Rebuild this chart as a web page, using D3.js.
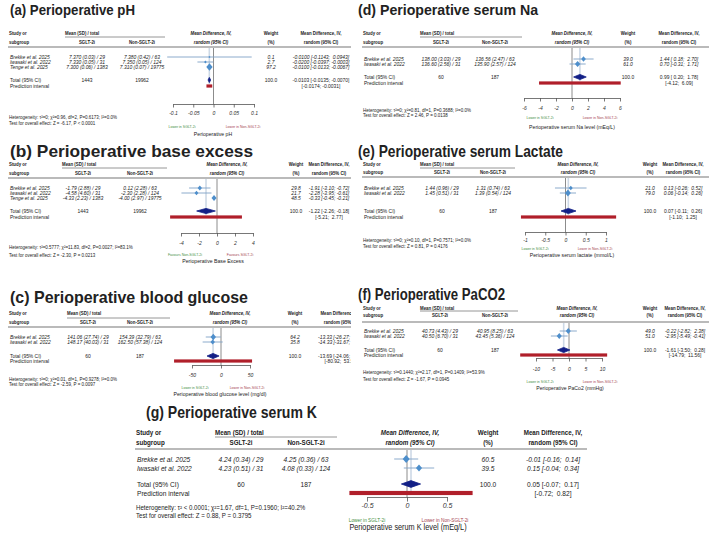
<!DOCTYPE html>
<html>
<head>
<meta charset="utf-8">
<script src="https://cdn.jsdelivr.net/npm/d3@7"></script>
<style>
  body { margin: 0; background: #fff; }
  svg text { font-family: "Liberation Sans", Arial, sans-serif; fill: #222; white-space: pre; }
</style>
</head>
<body>
<svg id="fig" width="709" height="534"></svg>
<script>
// ---- data ----
const panelTitles = [
    "(a) Perioperative pH",
    "(b) Perioperative base excess",
    "(c) Perioperative blood glucose",
    "(d) Perioperative serum Na",
    "(e) Perioperative serum Lactate",
    "(f) Perioperative PaCO2",
    "(g) Perioperative serum K"
];
const studyNames = [
    ["Brekke et al. 2025", "Iwasaki et al. 2022", "Tenge et al. 2025"],
    ["Brekke et al. 2025", "Iwasaki et al. 2022", "Tenge et al. 2025"],
    ["Brekke et al. 2025", "Iwasaki et al. 2022"],
    ["Brekke et al. 2025", "Iwasaki et al. 2022"],
    ["Brekke et al. 2025", "Iwasaki et al. 2022"],
    ["Brekke et al. 2025", "Iwasaki et al. 2022"],
    ["Brekke et al. 2025", "Iwasaki et al. 2022"]
];
const sgltCells = [
    ["7.370 (0.03) / 29", "7.330 (0.05) / 31", "7.300 (0.06) / 1383"],
    ["-1.79 (2.88) / 29", "-4.58 (4.60) / 31", "-4.33 (2.23) / 1383"],
    ["141.06 (27.74) / 29", "148.17 (40.03) / 31"],
    ["138.00 (3.03) / 29", "136.60 (2.56) / 31"],
    ["1.44 (0.96) / 29", "1.45 (0.51) / 31"],
    ["40.73 (4.43) / 29", "40.50 (6.70) / 31"],
    ["4.24 (0.34) / 29", "4.23 (0.51) / 31"]
];
const nonSgltCells = [
    ["7.380 (0.42) / 63", "7.350 (0.05) / 124", "7.310 (0.07) / 19775"],
    ["0.12 (2.28) / 63", "-2.30 (2.28) / 124", "-4.00 (2.97) / 19775"],
    ["154.39 (32.79) / 63", "162.50 (57.38) / 124"],
    ["136.56 (2.47) / 63", "135.90 (2.57) / 124"],
    ["1.31 (0.74) / 63", "1.39 (0.54) / 124"],
    ["40.95 (8.25) / 63", "43.45 (5.36) / 124"],
    ["4.25 (0.36) / 63", "4.08 (0.33) / 124"]
];
const studyMD = [
    [-0.0100, -0.0200, -0.0100],
    [-1.91, -2.28, -0.33],
    [-13.33, -14.33],
    [1.44, 0.70],
    [0.13, 0.06],
    [-0.22, -2.95],
    [-0.01, 0.15]
];
const studyLow = [
    [-0.1143, -0.0397, -0.0133],
    [-3.10, -3.95, -0.45],
    [-26.27, -31.67],
    [0.18, -0.31],
    [-0.26, -0.14],
    [-2.82, -5.49],
    [-0.16, -0.04]
];
const studyHigh = [
    [0.0943, -0.0003, -0.0067],
    [-0.72, -0.61, -0.21],
    [-0.39, 3.01],
    [2.70, 1.71],
    [0.52, 0.26],
    [2.38, -0.41],
    [0.14, 0.34]
];
const studyWeight = [
    [0.1, 2.7, 97.2],
    [29.8, 21.7, 48.5],
    [64.2, 35.8],
    [39.0, 61.0],
    [21.0, 79.0],
    [49.0, 51.0],
    [60.5, 39.5]
];
const totalSGLT = [1443, 1443, 60, 60, 60, 60, 60];
const totalNonSGLT = [19962, 19962, 187, 187, 187, 187, 187];
const pooledMD = [-0.0103, -1.22, -13.69, 0.99, 0.07, -1.61, 0.05];
const pooledLow = [-0.0135, -2.26, -24.06, 0.20, -0.11, -3.50, -0.07];
const pooledHigh = [-0.0070, -0.18, -3.32, 1.78, 0.26, 0.28, 0.17];
const predLow = [-0.0174, -5.21, -80.92, -4.12, -1.10, -14.79, -0.72];
const predHigh = [-0.0031, 2.77, 53.55, 6.09, 1.25, 11.56, 0.82];
const mdDigits = [4, 2, 2, 2, 2, 2, 2];
const axisTicks = [
    [-0.1, -0.05, 0, 0.05, 0.1],
    [-4, -2, 0, 2, 4],
    [-50, 0, 50],
    [-6, -4, -2, 0, 2, 4, 6],
    [-1, -0.5, 0, 0.5, 1],
    [-10, -5, 0, 5, 10],
    [-0.5, 0, 0.5]
];
const leftFavours = ["Lower in SGLT-2i", "Favours Non-SGLT-2i", "Lower in SGLT-2i", "Lower in SGLT-2i",
    "Lower in SGLT-2i", "Lower in SGLT-2i", "Lower in SGLT-2i"];
const rightFavours = ["Lower in Non-SGLT-2i", "Favours SGLT-2i", "Lower in Non-SGLT-2i", "Lower in Non-SGLT-2i",
    "Lower in Non-SGLT-2i", "Lower in Non-SGLT-2i", "Lower in Non-SGLT-2i"];
const axisTitles = [
    "Perioperative pH",
    "Perioperative Base Excess",
    "Perioperative blood glucose level (mg/dl)",
    "Perioperative serum Na level (mEq/L)",
    "Perioperative serum lactate (mmol/L)",
    "Perioperative PaCo2 (mmHg)",
    "Perioperative serum K level (mEq/L)"
];
const heterogeneity = [
    "Heterogeneity: τ²=0; χ²=0.96, df=2, P=0.6173; I²=0.0%",
    "Heterogeneity: τ²=0.5777; χ²=11.83, df=2, P=0.0027; I²=83.1%",
    "Heterogeneity: τ²=0; χ²=0.01, df=1, P=0.9278; I²=0.0%",
    "Heterogeneity: τ²=0; χ²=0.81, df=1, P=0.3688; I²=0.0%",
    "Heterogeneity: τ²=0; χ²=0.10, df=1, P=0.7571; I²=0.0%",
    "Heterogeneity: τ²=0.1440; χ²=2.17, df=1, P=0.1409; I²=53.9%",
    "Heterogeneity: τ² < 0.0001; χ²=1.67, df=1, P=0.1960; I²=40.2%"
];
const overallTest = [
    "Test for overall effect: Z = -6.17, P < 0.0001",
    "Test for overall effect: Z = -2.30, P = 0.0213",
    "Test for overall effect: Z = -2.59, P = 0.0097",
    "Test for overall effect: Z = 2.46, P = 0.0138",
    "Test for overall effect: Z = 0.81, P = 0.4176",
    "Test for overall effect: Z = -1.67, P = 0.0945",
    "Test for overall effect: Z = 0.88, P = 0.3795"
];

// ---- where each panel sits on the page ----
const small = { fs: 5.6, sx: 0.88, hsx: 0.78, ffs: 5.0, fsx: 0.9, afs: 5.6, asx: 0.92, mk: 1 };
const large = { fs: 7.8, sx: 0.85, hsx: 0.8, ffs: 6.6, fsx: 0.93, afs: 8.6, asx: 0.85, mk: 1.3 };
const layout = [
    { tx: 10, ty: 15, tw: 125, tfs: 14, left: 9, right: 351, hy1: 33, hy2: 42, lineY: 47, gx0: 65, gx1: 165, gy: 37,
      cS: 87, cN: 142, cMD: 211, cW: 271, cR: 321, rows: [57, 62, 67], totY: 80, predY: 86,
      px0: 173, px1: 254, axY: 104, tlY: 113, hetY: 117, testY: 123, favY: 127, favL: 182, favR: 243, atX: 213, atY: 134, st: small, clip: true },
    { tx: 10, ty: 157, tw: 243, tfs: 17, left: 9, right: 351, hy1: 164, hy2: 173, lineY: 178, gx0: 62, gx1: 167, gy: 168,
      cS: 83, cN: 140, cMD: 227, cW: 296, cR: 329, rows: [188, 193, 198], totY: 211, predY: 217,
      px0: 181, px1: 253, axY: 233, tlY: 243, hetY: 247, testY: 255, favY: 255, favL: 185, favR: 240, atX: 213, atY: 261, st: small, clip: true },
    { tx: 10, ty: 303, tw: 238, tfs: 17, left: 9, right: 351, hy1: 313, hy2: 322, lineY: 327, gx0: 67, gx1: 170, gy: 318,
      cS: 88, cN: 140, cMD: 230, cW: 295, cR: 341, rows: [337, 342], totY: 356, predY: 361,
      px0: 192, px1: 250, axY: 365, tlY: 375, hetY: 379, testY: 384, favY: 388, favL: 195, favR: 247, atX: 220, atY: 394, st: small, clip: true },
    { tx: 358, ty: 15, tw: 180, tfs: 15, left: 363, right: 709, hy1: 33, hy2: 42, lineY: 47, gx0: 420, gx1: 522, gy: 37,
      cS: 441, cN: 495, cMD: 572, cW: 628, cR: 679, rows: [59, 64], totY: 77, predY: 83,
      px0: 524, px1: 620, axY: 98, tlY: 108, hetY: 110, testY: 115, favY: 118, favL: 540, favR: 600, atX: 572, atY: 127, st: small },
    { tx: 358, ty: 157, tw: 205, tfs: 17, left: 363, right: 709, hy1: 164, hy2: 172, lineY: 177, gx0: 420, gx1: 515, gy: 168,
      cS: 442, cN: 493, cMD: 578, cW: 650, cR: 683, rows: [188, 193], totY: 211, predY: 217,
      px0: 525, px1: 606, axY: 232, tlY: 240, hetY: 240, testY: 246, favY: 249, favL: 535, favR: 595, atX: 572, atY: 255, st: small },
    { tx: 358, ty: 300, tw: 147, tfs: 17, left: 363, right: 709, hy1: 308, hy2: 315, lineY: 322, gx0: 420, gx1: 518, gy: 311,
      cS: 440, cN: 495, cMD: 577, cW: 650, cR: 685, rows: [331, 336], totY: 350, predY: 355,
      px0: 536, px1: 602, axY: 358, tlY: 369, hetY: 372, testY: 379, favY: 382, favL: 540, favR: 600, atX: 570, atY: 388, st: small },
    { tx: 146, ty: 418, tw: 171, tfs: 17, left: 136, right: 587, hy1: 432, hy2: 442, lineY: 449, gx0: 215, gx1: 337, gy: 437,
      cS: 241, cN: 306, cMD: 410, cW: 488, cR: 553, rows: [459, 468], totY: 484, predY: 493,
      px0: 367, px1: 447, axY: 497, tlY: 506, hetY: 508, testY: 516, favY: 520, favL: 367, favR: 445, atX: 408, atY: 527, st: large }
];

const markerBlue = "#4d8ecb", ciBlue = "#7fa2c6", navy = "#121f86", predRed = "#b01f2a";

const svg = d3.select("#fig");
svg.append("defs").append("clipPath").attr("id", "leftClip")
    .append("rect").attr("x", 0).attr("y", 0).attr("width", 351).attr("height", 534);

function label(g, x, y, str, o) {
    const t = g.append("text")
        .attr("transform", "translate(" + x + "," + y + ") scale(" + o.sx + ",1)")
        .attr("text-anchor", o.anchor || "start")
        .attr("dy", "0.35em")
        .style("font-size", o.size + "px")
        .text(str);
    if (o.bold) t.style("font-weight", "bold");
    if (o.italic) t.style("font-style", "italic");
    if (o.fill) t.style("fill", o.fill);
    return t;
}

function ciText(est, lo, hi, d) {
    const f = v => (v < 0 ? "" : " ") + v.toFixed(d);
    return est.toFixed(d) + " [" + f(lo) + "; " + f(hi) + "]";
}

layout.forEach((L, p) => {
    const g = svg.append("g").attr("clip-path", L.clip ? "url(#leftClip)" : null);
    const s = L.st;
    const body = { size: s.fs, sx: s.sx };
    const head = { size: s.fs, sx: s.hsx, bold: true };
    const mid = { anchor: "middle" };

    g.append("text")
        .attr("x", L.tx).attr("y", L.ty)
        .attr("textLength", L.tw).attr("lengthAdjust", "spacingAndGlyphs")
        .style("font-size", L.tfs + "px").style("font-weight", "bold")
        .text(panelTitles[p]);

    // header block
    label(g, L.left, L.hy1, "Study or", head);
    label(g, L.left, L.hy2, "subgroup", head);
    label(g, L.gx0, L.hy1, "Mean (SD) / total", head);
    g.append("line").attr("x1", L.gx0).attr("x2", L.gx1).attr("y1", L.gy).attr("y2", L.gy)
        .attr("stroke", "#8a8a8a").attr("stroke-width", 0.9);
    label(g, L.cS, L.hy2, "SGLT-2i", { ...head, ...mid });
    label(g, L.cN, L.hy2, "Non-SGLT-2i", { ...head, ...mid });
    label(g, L.cMD, L.hy1, "Mean Difference, IV,", { ...head, ...mid, italic: true });
    label(g, L.cMD, L.hy2, "random (95% CI)", { ...head, ...mid, italic: true });
    label(g, L.cW, L.hy1, "Weight", { ...head, ...mid });
    label(g, L.cW, L.hy2, "(%)", { ...head, ...mid });
    label(g, L.cR, L.hy1, "Mean Difference, IV,", { ...head, ...mid });
    label(g, L.cR, L.hy2, "random (95% CI)", { ...head, ...mid });
    g.append("line").attr("x1", L.left - 1).attr("x2", L.right).attr("y1", L.lineY).attr("y2", L.lineY)
        .attr("stroke", "#a3a3a3").attr("stroke-width", 1.6);

    const x = d3.scaleLinear().domain(d3.extent(axisTicks[p])).range([L.px0, L.px1]);

    // pooled-estimate guide and line of no effect
    g.append("line").attr("x1", x(pooledMD[p])).attr("x2", x(pooledMD[p]))
        .attr("y1", L.lineY + 1).attr("y2", L.predY - 2)
        .attr("stroke", "#cdd9e6").attr("stroke-width", 1.6);
    g.append("line").attr("x1", x(0)).attr("x2", x(0))
        .attr("y1", L.lineY + 1).attr("y2", L.axY)
        .attr("stroke", "#6f6f6f").attr("stroke-width", 0.8);

    // studies
    studyNames[p].forEach((name, i) => {
        const y = L.rows[i];
        const it = { ...body, italic: true };
        label(g, L.left + 1, y, name, it);
        label(g, L.cS, y, sgltCells[p][i], { ...it, ...mid });
        label(g, L.cN, y, nonSgltCells[p][i], { ...it, ...mid });
        label(g, L.cW, y, studyWeight[p][i].toFixed(1), { ...it, ...mid });
        label(g, L.cR, y, ciText(studyMD[p][i], studyLow[p][i], studyHigh[p][i], mdDigits[p]), { ...it, ...mid });

        g.append("line").attr("x1", x(studyLow[p][i])).attr("x2", x(studyHigh[p][i]))
            .attr("y1", y).attr("y2", y).attr("stroke", ciBlue).attr("stroke-width", 0.9);
        const h = s.mk * (0.9 + 2.3 * Math.sqrt(studyWeight[p][i] / 100));
        const cx = x(studyMD[p][i]);
        g.append("path")
            .attr("d", "M" + cx + "," + (y - h * 1.15) + "L" + (cx + h) + "," + y + "L" + cx + "," + (y + h * 1.15) + "L" + (cx - h) + "," + y + "Z")
            .attr("fill", markerBlue);
    });

    // pooled row
    label(g, L.left + 1, L.totY, "Total (95% CI)", body);
    label(g, L.cS, L.totY, String(totalSGLT[p]), { ...body, ...mid });
    label(g, L.cN, L.totY, String(totalNonSGLT[p]), { ...body, ...mid });
    label(g, L.cW, L.totY, "100.0", { ...body, ...mid });
    label(g, L.cR, L.totY, ciText(pooledMD[p], pooledLow[p], pooledHigh[p], mdDigits[p]), { ...body, ...mid });
    const dh = 2.6 * s.mk;
    g.append("path")
        .attr("d", "M" + x(pooledLow[p]) + "," + L.totY + "L" + x(pooledMD[p]) + "," + (L.totY - dh) +
            "L" + x(pooledHigh[p]) + "," + L.totY + "L" + x(pooledMD[p]) + "," + (L.totY + dh) + "Z")
        .attr("fill", navy).attr("stroke", navy).attr("stroke-width", 0.8);

    // prediction interval
    label(g, L.left + 1, L.predY, "Prediction interval", body);
    const f = v => (v < 0 ? "" : " ") + v.toFixed(mdDigits[p]);
    label(g, L.cR, L.predY, "[" + f(predLow[p]) + "; " + f(predHigh[p]) + "]", { ...body, ...mid });
    g.append("rect").attr("x", x(predLow[p])).attr("y", L.predY - 1.6 * s.mk)
        .attr("width", x(predHigh[p]) - x(predLow[p])).attr("height", 3.2 * s.mk)
        .attr("fill", predRed);

    // axis
    const ax = g.append("g").attr("transform", "translate(0," + L.axY + ")")
        .call(d3.axisBottom(x).tickValues(axisTicks[p]).tickSize(3.5 * s.mk).tickSizeOuter(0).tickFormat(d => String(d)));
    ax.select(".domain").attr("stroke", "#555").attr("stroke-width", 0.8);
    ax.selectAll(".tick line").attr("stroke", "#555").attr("stroke-width", 0.8);
    ax.selectAll("text").attr("y", L.tlY - L.axY).attr("dy", "0.35em")
        .style("font-size", (s.fs * 0.9) + "px").style("font-style", "italic").style("fill", "#333");

    // footnotes
    const foot = { size: s.ffs, sx: s.fsx };
    label(g, L.left, L.hetY, heterogeneity[p], foot);
    label(g, L.left, L.testY, overallTest[p], foot);
    label(g, L.favL, L.favY, leftFavours[p], { size: s.fs * 0.72, sx: s.sx, anchor: "middle", fill: "#3f8f3f" });
    label(g, L.favR, L.favY, rightFavours[p], { size: s.fs * 0.72, sx: s.sx, anchor: "middle", fill: "#a64452" });
    label(g, L.atX, L.atY, axisTitles[p], { size: s.afs, sx: s.asx, anchor: "middle" });
});
</script>
</body>
</html>
